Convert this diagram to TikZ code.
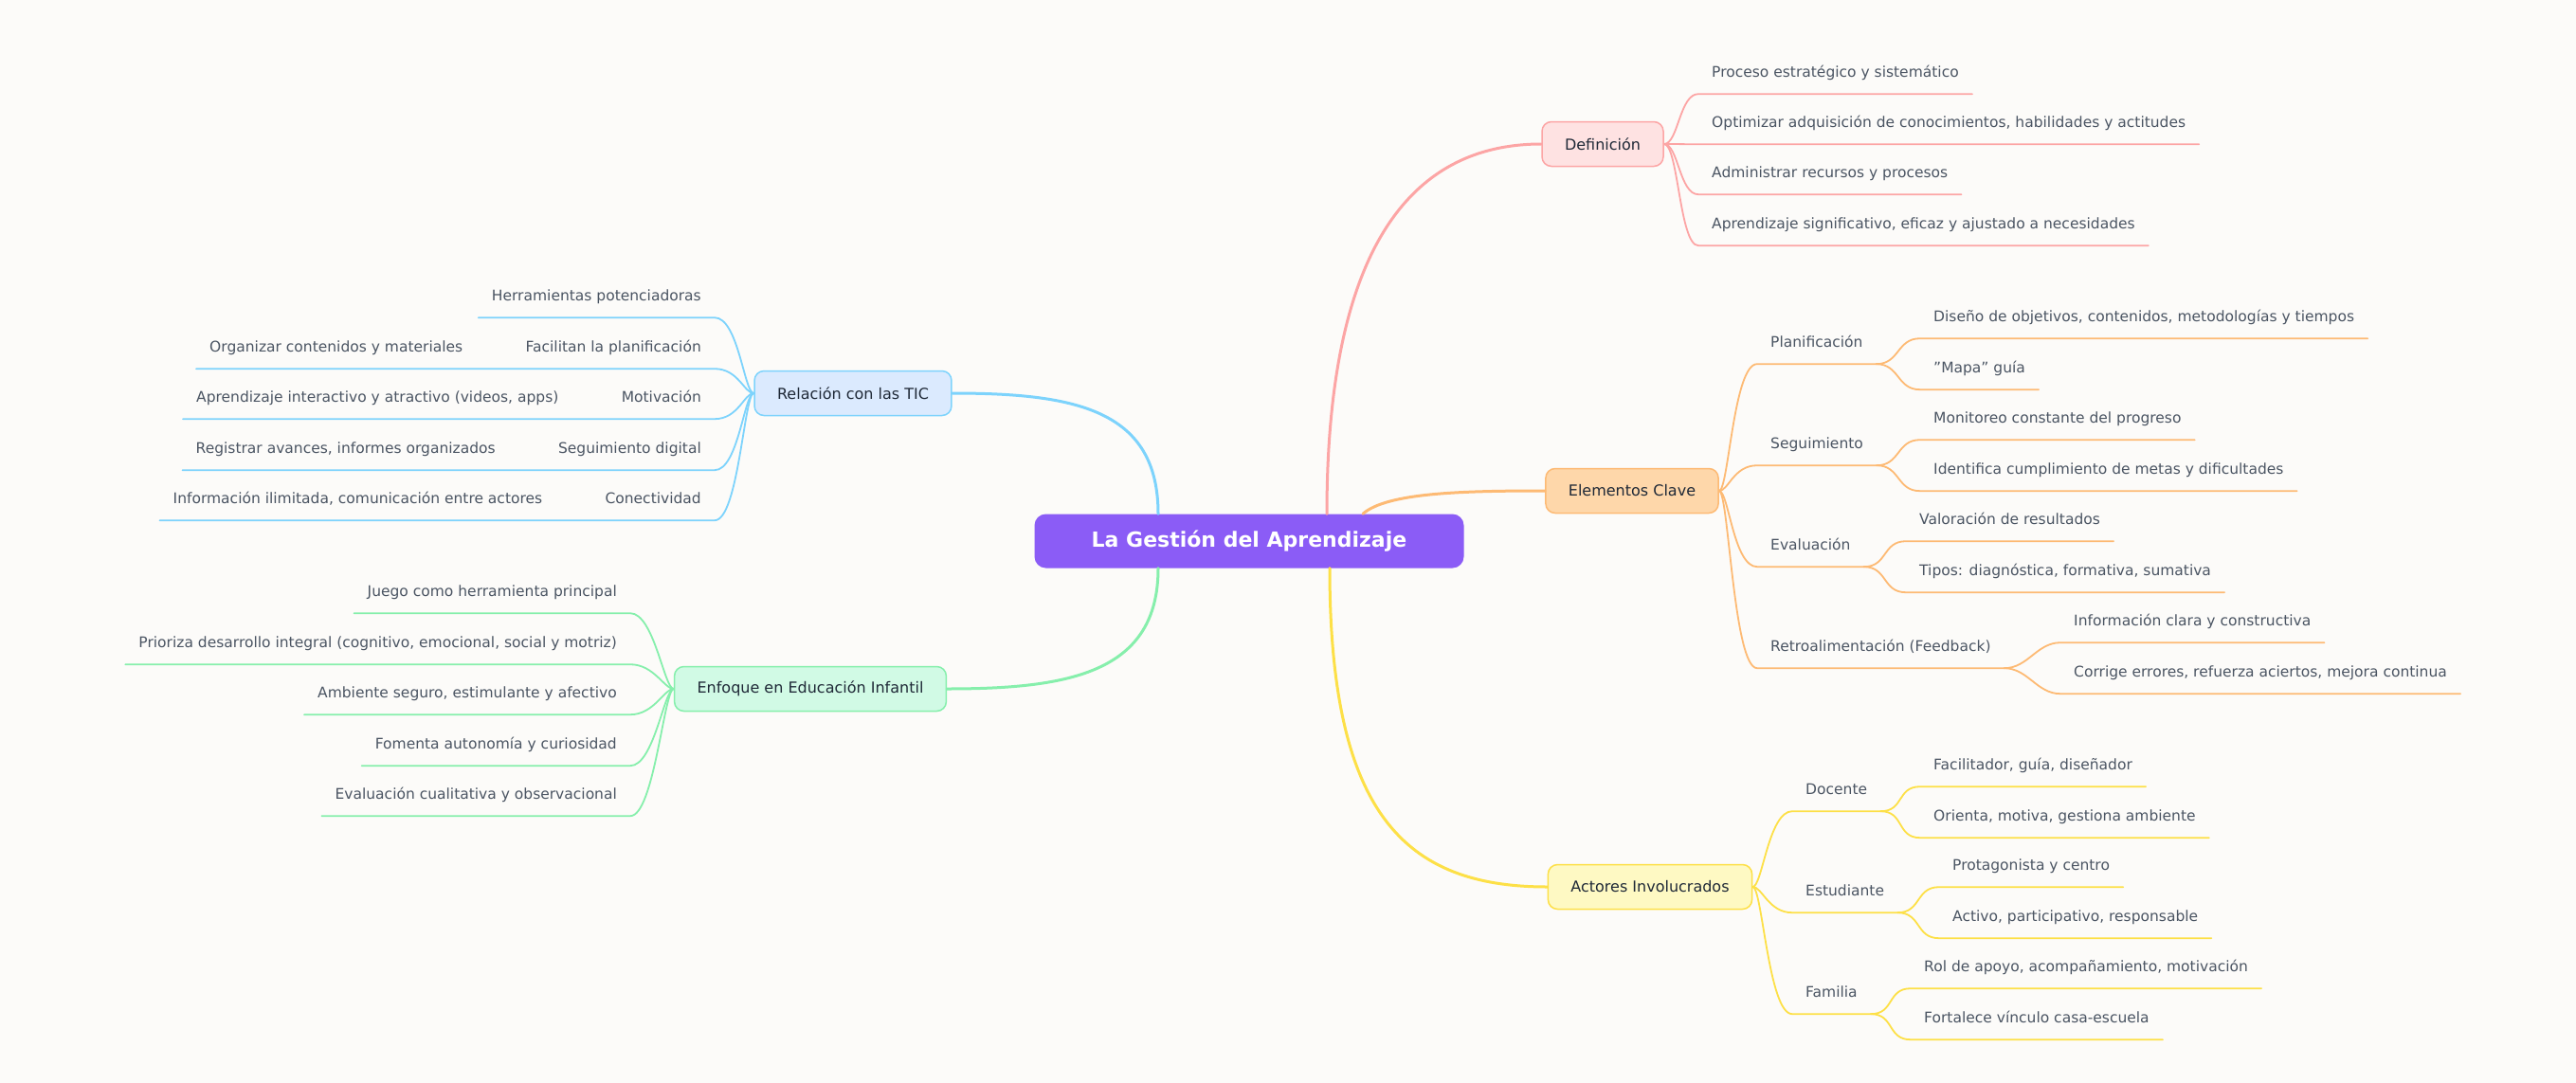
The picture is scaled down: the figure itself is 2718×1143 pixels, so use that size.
\documentclass[tikz,border=0pt]{standalone}
\usepackage{fontspec}
\setmainfont{DejaVu Sans}
\definecolor{bgc}{HTML}{FCFBF9}
\definecolor{rootc}{HTML}{8B5CF6}
\definecolor{nodetxt}{HTML}{1F2937}
\definecolor{leaftxt}{HTML}{4B5563}
\definecolor{defF}{HTML}{FEE2E2}\definecolor{defL}{HTML}{FCA5A5}
\definecolor{eleF}{HTML}{FED7AA}\definecolor{eleL}{HTML}{FDBA74}
\definecolor{actF}{HTML}{FEF9C3}\definecolor{actL}{HTML}{FDE047}
\definecolor{ticF}{HTML}{DBEAFE}\definecolor{ticL}{HTML}{7DD3FC}
\definecolor{enfF}{HTML}{D1FAE5}\definecolor{enfL}{HTML}{86EFAC}
\tikzset{
  root/.style={rounded corners=12pt,fill=rootc,text=white,font=\bfseries\fontsize{22}{26}\selectfont,minimum width=453pt,minimum height=57pt},
  main/.style={draw=#1L,fill=#1F,line width=1.5pt,rounded corners=10pt,font=\fontsize{16}{19}\selectfont,text=nodetxt,minimum height=47pt,inner xsep=24pt},
  leaf/.style={font=\fontsize{15.5}{18}\selectfont,text=leaftxt,inner xsep=14pt,inner ysep=14.5pt,text height=11.5pt,text depth=3.5pt},
  big/.style={draw=#1,line width=3pt},
  br/.style={draw=#1,line width=1.8pt},
}
\begin{document}
\begin{tikzpicture}[x=1pt,y=-1pt,line cap=round]
   \useasboundingbox[fill=bgc] (0,0) rectangle (2718,1143);

   \path (1318,571) node[root] (root) {La Gestión del Aprendizaje};
   \coordinate (r1) at ([xshift=82pt]root.north);
   \coordinate (r2) at ([xshift=120pt]root.north);
   \coordinate (r3) at ([xshift=85pt]root.south);
   \coordinate (r4) at ([xshift=-96pt]root.north);
   \coordinate (r5) at ([xshift=-96pt]root.south);

   % right side
   \path (1691,152) node[main=def] (def) {Definición};
   \path (1722,518) node[main=ele] (ele) {Elementos Clave};
   \path (1741,936) node[main=act] (act) {Actores Involucrados};
   % left side
   \path (900,415) node[main=tic] (tic) {Relación con las TIC};
   \path (855,727) node[main=enf] (enf) {Enfoque en Educación Infantil};

   \draw[big=defL] (r1) .. controls +(0,-260) and +(-150,0) .. (def.west);
   \draw[big=eleL] (r2) .. controls +(25,-22) and +(-90,0) .. (ele.west);
   \draw[big=actL] (r3) .. controls +(0,260) and +(-150,0) .. (act.west);
   \draw[big=ticL] (r4) .. controls +(0,-110) and +(130,0) .. (tic.east);
   \draw[big=enfL] (r5) .. controls +(0,110) and +(130,0) .. (enf.east);

   % Definicion
   \path (1792,77) node[leaf,anchor=west] (d1) {Proceso estratégico y sistemático};
   \path (1792,130) node[leaf,anchor=west] (d2) {Optimizar adquisición de conocimientos, habilidades y actitudes};
   \path (1792,183) node[leaf,anchor=west] (d3) {Administrar recursos y procesos};
   \path (1792,237) node[leaf,anchor=west] (d4) {Aprendizaje significativo, eficaz y ajustado a necesidades};
   \draw[br=defL] (def.east) .. controls +(15,0) and +(-20,0) .. (d1.south west) -- (d1.south east);
   \draw[br=defL] (def.east) .. controls +(15,0) and +(-20,0) .. (d2.south west) -- (d2.south east);
   \draw[br=defL] (def.east) .. controls +(15,0) and +(-20,0) .. (d3.south west) -- (d3.south east);
   \draw[br=defL] (def.east) .. controls +(15,0) and +(-20,0) .. (d4.south west) -- (d4.south east);

   % Elementos Clave
   \path (1854,362) node[leaf,anchor=west] (plan) {Planificación};
   \path (1854,469) node[leaf,anchor=west] (segu) {Seguimiento};
   \path (1854,576) node[leaf,anchor=west] (eval) {Evaluación};
   \path (1854,683) node[leaf,anchor=west] (retro) {Retroalimentación (Feedback)};
   \draw[br=eleL] (ele.east) .. controls +(10,0) and +(-25,0) .. (plan.south west) -- (plan.south east);
   \draw[br=eleL] (ele.east) .. controls +(10,0) and +(-25,0) .. (segu.south west) -- (segu.south east);
   \draw[br=eleL] (ele.east) .. controls +(10,0) and +(-25,0) .. (eval.south west) -- (eval.south east);
   \draw[br=eleL] (ele.east) .. controls +(10,0) and +(-25,0) .. (retro.south west) -- (retro.south east);
   \path (2026,335) node[leaf,anchor=west] (p1) {Diseño de objetivos, contenidos, metodologías y tiempos};
   \path (2026,389) node[leaf,anchor=west] (p2) {"Mapa" guía};
   \path (2026,442) node[leaf,anchor=west] (s1) {Monitoreo constante del progreso};
   \path (2026,496) node[leaf,anchor=west] (s2) {Identifica cumplimiento de metas y dificultades};
   \path (2011,549) node[leaf,anchor=west] (e1) {Valoración de resultados};
   \path (2011,603) node[leaf,anchor=west] (e2) {Tipos: diagnóstica, formativa, sumativa};
   \path (2174,656) node[leaf,anchor=west] (f1) {Información clara y constructiva};
   \path (2174,710) node[leaf,anchor=west] (f2) {Corrige errores, refuerza aciertos, mejora continua};
   \draw[br=eleL] (plan.south east) .. controls +(25,0) and +(-25,0) .. (p1.south west) -- (p1.south east);
   \draw[br=eleL] (plan.south east) .. controls +(25,0) and +(-25,0) .. (p2.south west) -- (p2.south east);
   \draw[br=eleL] (segu.south east) .. controls +(25,0) and +(-25,0) .. (s1.south west) -- (s1.south east);
   \draw[br=eleL] (segu.south east) .. controls +(25,0) and +(-25,0) .. (s2.south west) -- (s2.south east);
   \draw[br=eleL] (eval.south east) .. controls +(25,0) and +(-25,0) .. (e1.south west) -- (e1.south east);
   \draw[br=eleL] (eval.south east) .. controls +(25,0) and +(-25,0) .. (e2.south west) -- (e2.south east);
   \draw[br=eleL] (retro.south east) .. controls +(25,0) and +(-25,0) .. (f1.south west) -- (f1.south east);
   \draw[br=eleL] (retro.south east) .. controls +(25,0) and +(-25,0) .. (f2.south west) -- (f2.south east);

   % Actores Involucrados
   \path (1891,834) node[leaf,anchor=west] (doc) {Docente};
   \path (1891,941) node[leaf,anchor=west] (est) {Estudiante};
   \path (1891,1048) node[leaf,anchor=west] (fam) {Familia};
   \draw[br=actL] (act.east) .. controls +(10,0) and +(-25,0) .. (doc.south west) -- (doc.south east);
   \draw[br=actL] (act.east) .. controls +(10,0) and +(-25,0) .. (est.south west) -- (est.south east);
   \draw[br=actL] (act.east) .. controls +(10,0) and +(-25,0) .. (fam.south west) -- (fam.south east);
   \path (2026,808) node[leaf,anchor=west] (a1) {Facilitador, guía, diseñador};
   \path (2026,862) node[leaf,anchor=west] (a2) {Orienta, motiva, gestiona ambiente};
   \path (2046,914) node[leaf,anchor=west] (a3) {Protagonista y centro};
   \path (2046,968) node[leaf,anchor=west] (a4) {Activo, participativo, responsable};
   \path (2016,1021) node[leaf,anchor=west] (a5) {Rol de apoyo, acompañamiento, motivación};
   \path (2016,1075) node[leaf,anchor=west] (a6) {Fortalece vínculo casa-escuela};
   \draw[br=actL] (doc.south east) .. controls +(25,0) and +(-25,0) .. (a1.south west) -- (a1.south east);
   \draw[br=actL] (doc.south east) .. controls +(25,0) and +(-25,0) .. (a2.south west) -- (a2.south east);
   \draw[br=actL] (est.south east) .. controls +(25,0) and +(-25,0) .. (a3.south west) -- (a3.south east);
   \draw[br=actL] (est.south east) .. controls +(25,0) and +(-25,0) .. (a4.south west) -- (a4.south east);
   \draw[br=actL] (fam.south east) .. controls +(25,0) and +(-25,0) .. (a5.south west) -- (a5.south east);
   \draw[br=actL] (fam.south east) .. controls +(25,0) and +(-25,0) .. (a6.south west) -- (a6.south east);

   % Relacion con las TIC
   \path (754,313) node[leaf,anchor=east] (t1) {Herramientas potenciadoras};
   \path (754,367) node[leaf,anchor=east] (t2) {Facilitan la planificación};
   \path (754,420) node[leaf,anchor=east] (t3) {Motivación};
   \path (754,474) node[leaf,anchor=east] (t4) {Seguimiento digital};
   \path (754,527) node[leaf,anchor=east] (t5) {Conectividad};
   \path ([xshift=-38pt]t2.west) node[leaf,anchor=east] (t2a) {Organizar contenidos y materiales};
   \path ([xshift=-38pt]t3.west) node[leaf,anchor=east] (t3a) {Aprendizaje interactivo y atractivo (videos, apps)};
   \path ([xshift=-38pt]t4.west) node[leaf,anchor=east] (t4a) {Registrar avances, informes organizados};
   \path ([xshift=-38pt]t5.west) node[leaf,anchor=east] (t5a) {Información ilimitada, comunicación entre actores};
   \draw[br=ticL] (tic.west) .. controls +(-10,0) and +(25,0) .. (t1.south east) -- (t1.south west);
   \draw[br=ticL] (tic.west) .. controls +(-10,0) and +(25,0) .. (t2.south east) -- (t2.south west) -- (t2a.south east) -- (t2a.south west);
   \draw[br=ticL] (tic.west) .. controls +(-10,0) and +(25,0) .. (t3.south east) -- (t3.south west) -- (t3a.south east) -- (t3a.south west);
   \draw[br=ticL] (tic.west) .. controls +(-10,0) and +(25,0) .. (t4.south east) -- (t4.south west) -- (t4a.south east) -- (t4a.south west);
   \draw[br=ticL] (tic.west) .. controls +(-10,0) and +(25,0) .. (t5.south east) -- (t5.south west) -- (t5a.south east) -- (t5a.south west);

   % Enfoque en Educacion Infantil
   \path (665,625) node[leaf,anchor=east] (i1) {Juego como herramienta principal};
   \path (665,679) node[leaf,anchor=east] (i2) {Prioriza desarrollo integral (cognitivo, emocional, social y motriz)};
   \path (665,732) node[leaf,anchor=east] (i3) {Ambiente seguro, estimulante y afectivo};
   \path (665,786) node[leaf,anchor=east] (i4) {Fomenta autonomía y curiosidad};
   \path (665,839) node[leaf,anchor=east] (i5) {Evaluación cualitativa y observacional};
   \draw[br=enfL] (enf.west) .. controls +(-10,0) and +(25,0) .. (i1.south east) -- (i1.south west);
   \draw[br=enfL] (enf.west) .. controls +(-10,0) and +(25,0) .. (i2.south east) -- (i2.south west);
   \draw[br=enfL] (enf.west) .. controls +(-10,0) and +(25,0) .. (i3.south east) -- (i3.south west);
   \draw[br=enfL] (enf.west) .. controls +(-10,0) and +(25,0) .. (i4.south east) -- (i4.south west);
   \draw[br=enfL] (enf.west) .. controls +(-10,0) and +(25,0) .. (i5.south east) -- (i5.south west);

\end{tikzpicture}
\end{document}
